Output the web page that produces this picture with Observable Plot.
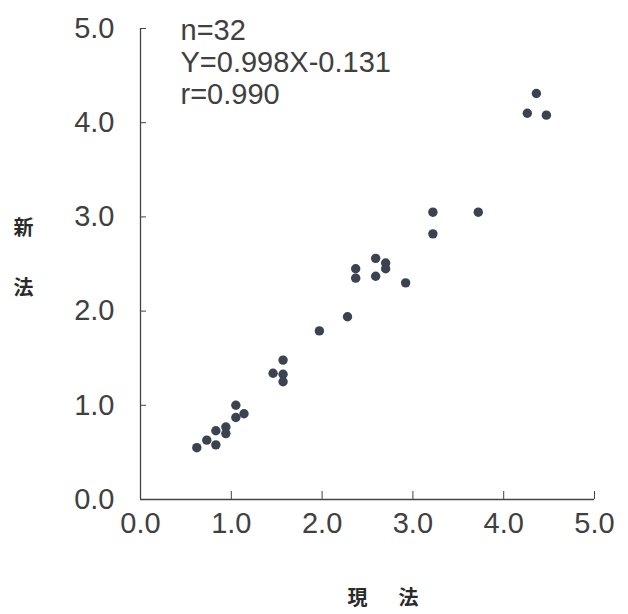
<!DOCTYPE html>
<html>
<head>
<meta charset="utf-8">
<script src="https://cdn.jsdelivr.net/npm/d3@7"></script>
<script src="https://cdn.jsdelivr.net/npm/@observablehq/plot@0.6"></script>
<style>
  html, body { margin: 0; padding: 0; background: #fff; }
</style>
</head>
<body>
<div id="chart"></div>
<script>
// 現法 (x) vs 新法 (y)
const xValues = [0.62, 0.73, 0.83, 0.83, 0.94, 0.94, 1.05, 1.05, 1.14,
                 1.57, 1.46, 1.57, 1.57, 1.97, 2.28, 2.37, 2.37, 2.59, 2.59,
                 2.70, 2.70, 2.92, 3.22, 3.22, 3.72, 4.36, 4.26, 4.47];
const yValues = [0.55, 0.63, 0.58, 0.73, 0.77, 0.70, 1.00, 0.87, 0.91,
                 1.48, 1.34, 1.33, 1.25, 1.79, 1.94, 2.45, 2.35, 2.56, 2.37,
                 2.51, 2.45, 2.30, 3.05, 2.82, 3.05, 4.31, 4.10, 4.08];
const axisTicks = [0, 1, 2, 3, 4, 5];
const statsText = ["n=32", "Y=0.998X-0.131", "r=0.990"];
const yTitleChars = ["新", "法"];
const xTitleChars = ["現", "法"];

const points = xValues.map((x, i) => ({x, y: yValues[i]}));
const fmt = d => d.toFixed(1);
const ink = "#404040";
const cjk = "'Noto Sans CJK JP', 'Noto Sans CJK SC', sans-serif";

const chart = Plot.plot({
  width: 628,
  height: 614,
  marginLeft: 140,
  marginRight: 34,
  marginTop: 28,
  marginBottom: 115,
  x: {domain: [0, 5]},
  y: {domain: [0, 5]},
  style: {fontFamily: "'Liberation Sans', Arial, sans-serif", background: "#fff", color: ink},
  marks: [
    Plot.axisX({ticks: axisTicks, tickSize: -8, tickFormat: () => "", stroke: "#444", label: null}),
    Plot.axisX({ticks: axisTicks, tickSize: 0, tickPadding: 13, tickFormat: fmt, fontSize: 29, fill: ink, label: null}),
    Plot.axisY({ticks: axisTicks, tickSize: -6, tickFormat: () => "", stroke: "#444", label: null}),
    Plot.axisY({ticks: axisTicks, tickSize: 0, tickPadding: 26, tickFormat: fmt, fontSize: 29, fill: ink, label: null}),
    Plot.ruleX([0], {stroke: "#444", strokeWidth: 1.3}),
    Plot.ruleY([0], {stroke: "#444", strokeWidth: 1.3}),
    Plot.dot(points, {x: "x", y: "y", r: 4.7, fill: "#3c4350", stroke: "none"}),
    Plot.text([statsText.join("\n")], {
      frameAnchor: "top-left", dx: 40, dy: -11, lineAnchor: "top", textAnchor: "start",
      fontSize: 29, lineHeight: 1.1, fill: ink
    }),
    Plot.text([yTitleChars.join("\n")], {
      frameAnchor: "left", dx: -117, dy: -18, lineAnchor: "middle", textAnchor: "middle",
      fontSize: 20, lineHeight: 3.0, fill: "#2a2a2a", fontFamily: cjk, fontWeight: 600
    }),
    Plot.text([xTitleChars[0]], {
      frameAnchor: "bottom", dx: -10, dy: 99, lineAnchor: "middle", textAnchor: "middle",
      fontSize: 20, fill: "#2a2a2a", fontFamily: cjk, fontWeight: 600
    }),
    Plot.text([xTitleChars[1]], {
      frameAnchor: "bottom", dx: 41, dy: 99, lineAnchor: "middle", textAnchor: "middle",
      fontSize: 20, fill: "#2a2a2a", fontFamily: cjk, fontWeight: 600
    })
  ]
});
document.getElementById("chart").appendChild(chart);
</script>
</body>
</html>
